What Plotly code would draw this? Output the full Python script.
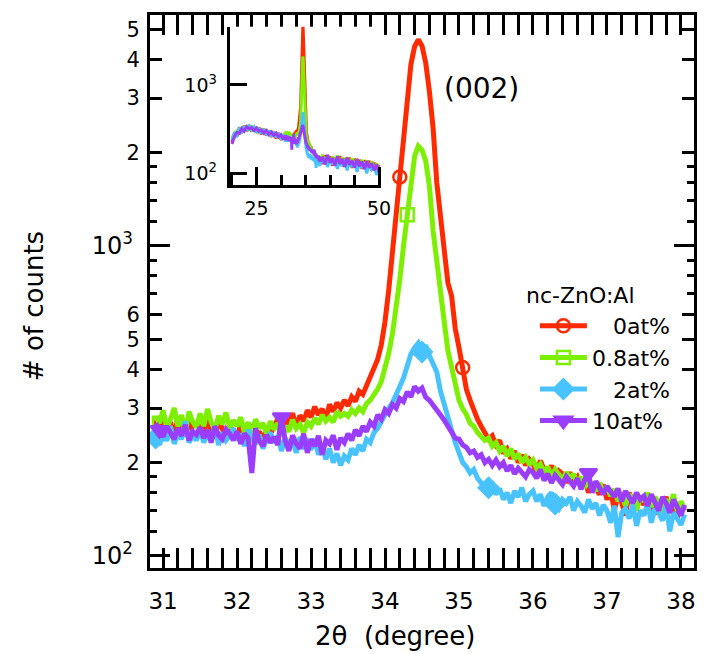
import numpy as np
import plotly.graph_objects as go

# ---- (002) region scan, 2theta in degrees ----
two_theta = np.round(30.90 + 0.05 * np.arange(144), 2)

counts_0 = [
    275, 262, 290, 248, 270, 241, 282, 256, 244, 278, 250, 238,
    264, 245, 287, 252, 240, 272, 258, 236, 266, 249,
    242, 268, 233, 255, 261, 240, 252, 235, 258, 247,
    262, 276, 250, 281, 266, 289, 260, 284, 272, 295,
    280, 303, 285, 298, 276, 308, 292, 312, 300, 318,
    305, 326, 315, 340, 332, 355, 372, 398, 430, 480,
    570, 720, 930, 1280, 1670, 2200, 3000, 3850, 4400, 4630,
    4420, 3900, 3150, 2400, 1600, 1210, 950, 760, 690, 540,
    470, 405, 345, 318, 292, 276, 262, 250, 238, 244,
    228, 236, 214, 221, 206, 218, 200, 212, 196, 205,
    198, 186, 203, 190, 182, 196, 178, 188, 184, 172,
    186, 174, 180, 168, 178, 160, 172, 165, 158, 170,
    152, 163, 140, 158, 148, 135, 160, 150, 142, 155,
    146, 158, 140, 152, 136, 148, 155, 138, 145, 132, 148, 140,
]
counts_08 = [
    282, 268, 295, 258, 276, 300, 262, 285, 250, 292, 271, 260,
    288, 262, 298, 270, 255, 283, 266, 290, 258, 274,
    262, 280, 250, 270, 245, 276, 258, 268, 248, 272,
    256, 268, 244, 262, 252, 275, 258, 266, 250, 270,
    262, 278, 266, 285, 272, 280, 270, 292, 282, 288,
    282, 296, 288, 300, 292, 310, 318, 330, 345, 365,
    400, 450, 520, 620, 780, 1000, 1260, 1640, 1950, 2100,
    2040, 1880, 1560, 1120, 870, 700, 570, 460, 410, 365,
    318, 298, 286, 268, 262, 250, 244, 236, 240, 226,
    232, 218, 226, 210, 222, 205, 214, 200, 208, 198,
    204, 192, 198, 186, 194, 180, 190, 182, 176, 186,
    178, 184, 170, 180, 166, 175, 170, 162, 172, 160,
    168, 156, 164, 150, 160, 145, 158, 152, 140, 156,
    150, 160, 144, 155, 148, 138, 152, 145, 158, 140, 150, 142,
]
counts_2 = [
    240, 228, 252, 235, 262, 230, 248, 238, 272, 232, 245, 236,
    255, 232, 248, 240, 262, 228, 250, 236, 244, 258,
    236, 248, 226, 255, 240, 230, 246, 222, 238, 250,
    232, 244, 218, 240, 228, 236, 215, 242, 226, 234,
    220, 238, 212, 228, 205, 222, 200, 214, 196, 210,
    204, 222, 212, 228, 218, 238, 232, 250, 258, 272,
    282, 300, 312, 335, 352, 375, 405, 448, 470, 486,
    455, 478, 442, 418, 392, 340, 312, 282, 255, 232,
    212, 200, 194, 185, 190, 178, 172, 168, 166, 170,
    158, 165, 152, 160, 148, 162, 155, 166, 150, 158,
    162, 150, 158, 145, 155, 160, 147, 142, 152, 148,
    155, 140, 150, 145, 138, 152, 142, 148, 135, 146,
    140, 128, 145, 115, 138, 142, 132, 146, 125, 140,
    135, 148, 128, 142, 138, 130, 145, 120, 138, 132, 126, 136,
]
counts_10 = [
    268, 255, 242, 262, 250, 238, 258, 244, 265, 236, 252, 246,
    260, 240, 255, 232, 262, 245, 238, 256, 248, 236,
    252, 230, 248, 240, 185, 258, 235, 226, 246, 232,
    242, 228, 280, 236, 218, 245, 230, 222, 248, 215,
    238, 226, 244, 212, 236, 230, 245, 220, 240, 232,
    248, 236, 255, 244, 262, 252, 270, 262, 285, 276,
    296, 288, 308, 300, 322, 315, 338, 326, 352, 340,
    348, 325, 318, 305, 296, 285, 274, 262, 255, 240,
    238, 228, 224, 215, 218, 208, 212, 200, 205, 196,
    204, 194, 200, 188, 196, 184, 192, 186, 180, 190,
    186, 178, 190, 175, 184, 172, 182, 176, 170, 180,
    175, 168, 178, 164, 176, 185, 160, 174, 166, 158,
    168, 160, 155, 165, 150, 162, 155, 148, 160, 152,
    156, 145, 158, 150, 140, 155, 148, 138, 152, 144, 135, 146,
]

# ---- wide scan (inset): parts outside the (002) window ----
wide_low_x = np.round(20.0 + 0.5 * np.arange(22), 2)
wide_high_x = np.round(38.5 + 0.5 * np.arange(24), 2)

wide_low = {
    "0": [225, 290, 262, 330, 285, 345, 300, 352, 298, 340, 290, 330, 275, 318, 268, 305, 258, 298, 248, 288, 240, 270],
    "0.8": [270, 248, 310, 275, 335, 295, 348, 305, 345, 298, 335, 285, 322, 278, 312, 268, 300, 262, 292, 250, 282, 245],
    "2": [238, 285, 268, 318, 295, 340, 305, 342, 310, 335, 296, 325, 282, 315, 272, 305, 262, 295, 255, 282, 248, 265],
    "10": [215, 262, 290, 285, 322, 300, 338, 318, 330, 305, 325, 298, 310, 285, 305, 275, 295, 268, 285, 258, 272, 240],
}
wide_high = {
    "0": [128, 160, 132, 155, 122, 150, 130, 156, 120, 148, 128, 150, 115, 146, 124, 142, 112, 140, 120, 138, 108, 132, 102, 125],
    "0.8": [162, 130, 158, 128, 155, 125, 160, 122, 150, 126, 152, 118, 148, 122, 145, 115, 142, 118, 140, 112, 136, 110, 130, 112],
    "2": [135, 150, 118, 145, 126, 142, 112, 140, 120, 144, 108, 138, 118, 135, 104, 132, 115, 128, 100, 126, 110, 120, 96, 112],
    "10": [150, 126, 162, 132, 148, 122, 155, 128, 145, 118, 150, 125, 140, 116, 145, 120, 136, 112, 138, 116, 130, 108, 126, 104],
}

labels = ["   0at%", "0.8at%", "   2at%", "10at%"]
al_keys = ["0", "0.8", "2", "10"]

# y tick labels
y_major_vals = [100, 1000]
y_major_text = ["10<sup>2</sup>", "10<sup>3</sup>"]
y_label_vals = [200, 300, 400, 500, 600, 2000, 3000, 4000, 5000]
y_label_text = ["2", "3", "4", "5", "6", "2", "3", "4", "5"]
y_minor_vals = [120, 140, 160, 180, 700, 800, 900, 1200, 1400, 1600, 1800]

# ---- styling ----
colors = ["#FF2A00", "#7CF000", "#48C3FF", "#9B3DFF"]
symbols = ["circle-open", "square-open", "diamond", "triangle-down"]
msizes = [13, 13, 15, 15]
marker_idx = [[1, 66, 83], [1, 68], [0, 72, 90, 108], [1, 34, 117]]
series = [counts_0, counts_08, counts_2, counts_10]

FONT = "DejaVu Sans, Liberation Sans, Arial, sans-serif"
L, R, T, B = 150, 7, 15, 86
W, H = 711, 654
PW, PH = W - L - R, H - T - B


def px(x):
    return (x - L) / PW


def py(y):
    return (H - B - y) / PH


fig = go.Figure()

for k in range(4):
    y = np.array(series[k])
    fig.add_trace(go.Scatter(
        x=two_theta, y=y, mode="lines",
        line=dict(color=colors[k], width=5), showlegend=False, hoverinfo="skip"))
    idx = marker_idx[k]
    fig.add_trace(go.Scatter(
        x=two_theta[idx], y=y[idx], mode="markers",
        marker=dict(symbol=symbols[k], size=msizes[k], color=colors[k],
                    line=dict(color=colors[k], width=2.5)),
        showlegend=False, hoverinfo="skip"))

# legend entries
for k in range(4):
    fig.add_trace(go.Scatter(
        x=[None], y=[None], mode="lines+markers", name=labels[k],
        line=dict(color=colors[k], width=5),
        marker=dict(symbol=symbols[k], size=msizes[k], color=colors[k],
                    line=dict(color=colors[k], width=2.5))))

# placeholder so the decade-label axis is drawn
fig.add_trace(go.Scatter(x=[None], y=[None], yaxis="y3", showlegend=False,
                         hoverinfo="skip"))

# inset: full scan
for k in range(4):
    xi = np.concatenate([wide_low_x, two_theta, wide_high_x])
    yi = np.concatenate([wide_low[al_keys[k]], series[k], wide_high[al_keys[k]]])
    fig.add_trace(go.Scatter(
        x=xi, y=yi, mode="lines", xaxis="x2", yaxis="y2",
        line=dict(color=colors[k], width=3), showlegend=False, hoverinfo="skip"))

axis_common = dict(showgrid=False, zeroline=False, ticks="inside", tickcolor="black",
                   showline=True, linecolor="black")

fig.update_layout(
    width=W, height=H,
    margin=dict(l=L, r=R, t=T, b=B),
    plot_bgcolor="white", paper_bgcolor="white",
    font=dict(family=FONT, color="black", size=22),
    xaxis=dict(
        **axis_common, range=[30.823, 38.177], tickmode="linear", tick0=31, dtick=1,
        ticklen=20, tickwidth=2.5, linewidth=3, mirror="allticks",
        tickfont=dict(size=23), ticklabelstandoff=10,
        minor=dict(dtick=0.2, ticks="inside", ticklen=9, tickwidth=2.5,
                   tickcolor="black", showgrid=False),
    ),
    yaxis=dict(
        **axis_common, type="log", range=[1.961, 3.745],
        tickmode="array", tickvals=y_label_vals, ticktext=y_label_text,
        ticklen=12, tickwidth=2.5, linewidth=3, mirror="allticks",
        tickfont=dict(size=21), ticklabelstandoff=3,
        minor=dict(tickmode="array", tickvals=y_minor_vals, ticks="inside",
                   ticklen=7, tickwidth=2.5, tickcolor="black", showgrid=False),
    ),
    yaxis3=dict(
        type="log", range=[1.961, 3.745], overlaying="y", anchor="x", side="left",
        tickmode="array", tickvals=y_major_vals, ticktext=y_major_text,
        ticks="inside", ticklen=20, tickwidth=2.5, tickcolor="black",
        showline=False, showgrid=False, zeroline=False, mirror="ticks",
        tickfont=dict(size=24), ticklabelstandoff=16,
    ),
    xaxis2=dict(
        **axis_common, domain=[px(231), px(385)], anchor="y2", range=[19.5, 50.35],
        tickmode="array", tickvals=[25, 50], ticktext=["25", "50"],
        ticklen=18, tickwidth=2.5, linewidth=2.5, tickfont=dict(size=19),
        ticklabelstandoff=4,
        minor=dict(tickmode="array", tickvals=[20, 30, 35, 40, 45], ticks="inside",
                   ticklen=10, tickwidth=2.5, tickcolor="black", showgrid=False),
    ),
    yaxis2=dict(
        **axis_common, type="log", domain=[py(185), py(26.7)], anchor="x2",
        range=[1.8675, 3.66], tickmode="array", tickvals=y_major_vals,
        ticktext=y_major_text, ticklen=18, tickwidth=2.5, linewidth=2.5,
        tickfont=dict(size=19), ticklabelstandoff=6,
    ),
    legend=dict(
        x=px(542), y=py(305), xanchor="left", yanchor="top",
        bgcolor="rgba(0,0,0,0)", borderwidth=0, itemwidth=47,
        font=dict(size=22), tracegroupgap=0,
    ),
    annotations=[
        dict(text="nc-ZnO:Al", x=px(531), y=py(295), xref="paper", yref="paper",
             xanchor="left", yanchor="middle", showarrow=False, font=dict(size=22)),
        dict(text="(002)", x=px(488), y=py(89), xref="paper", yref="paper",
             xanchor="center", yanchor="middle", showarrow=False, font=dict(size=28)),
        dict(text="2\u03b8  (degree)", x=px(400), y=py(636), xref="paper", yref="paper",
             xanchor="center", yanchor="middle", showarrow=False, font=dict(size=26)),
        dict(text="# of counts", x=px(32), y=py(306), xref="paper", yref="paper",
             xanchor="center", yanchor="middle", showarrow=False, textangle=-90,
             font=dict(size=26)),
    ],
)

fig.write_html("out.html")
